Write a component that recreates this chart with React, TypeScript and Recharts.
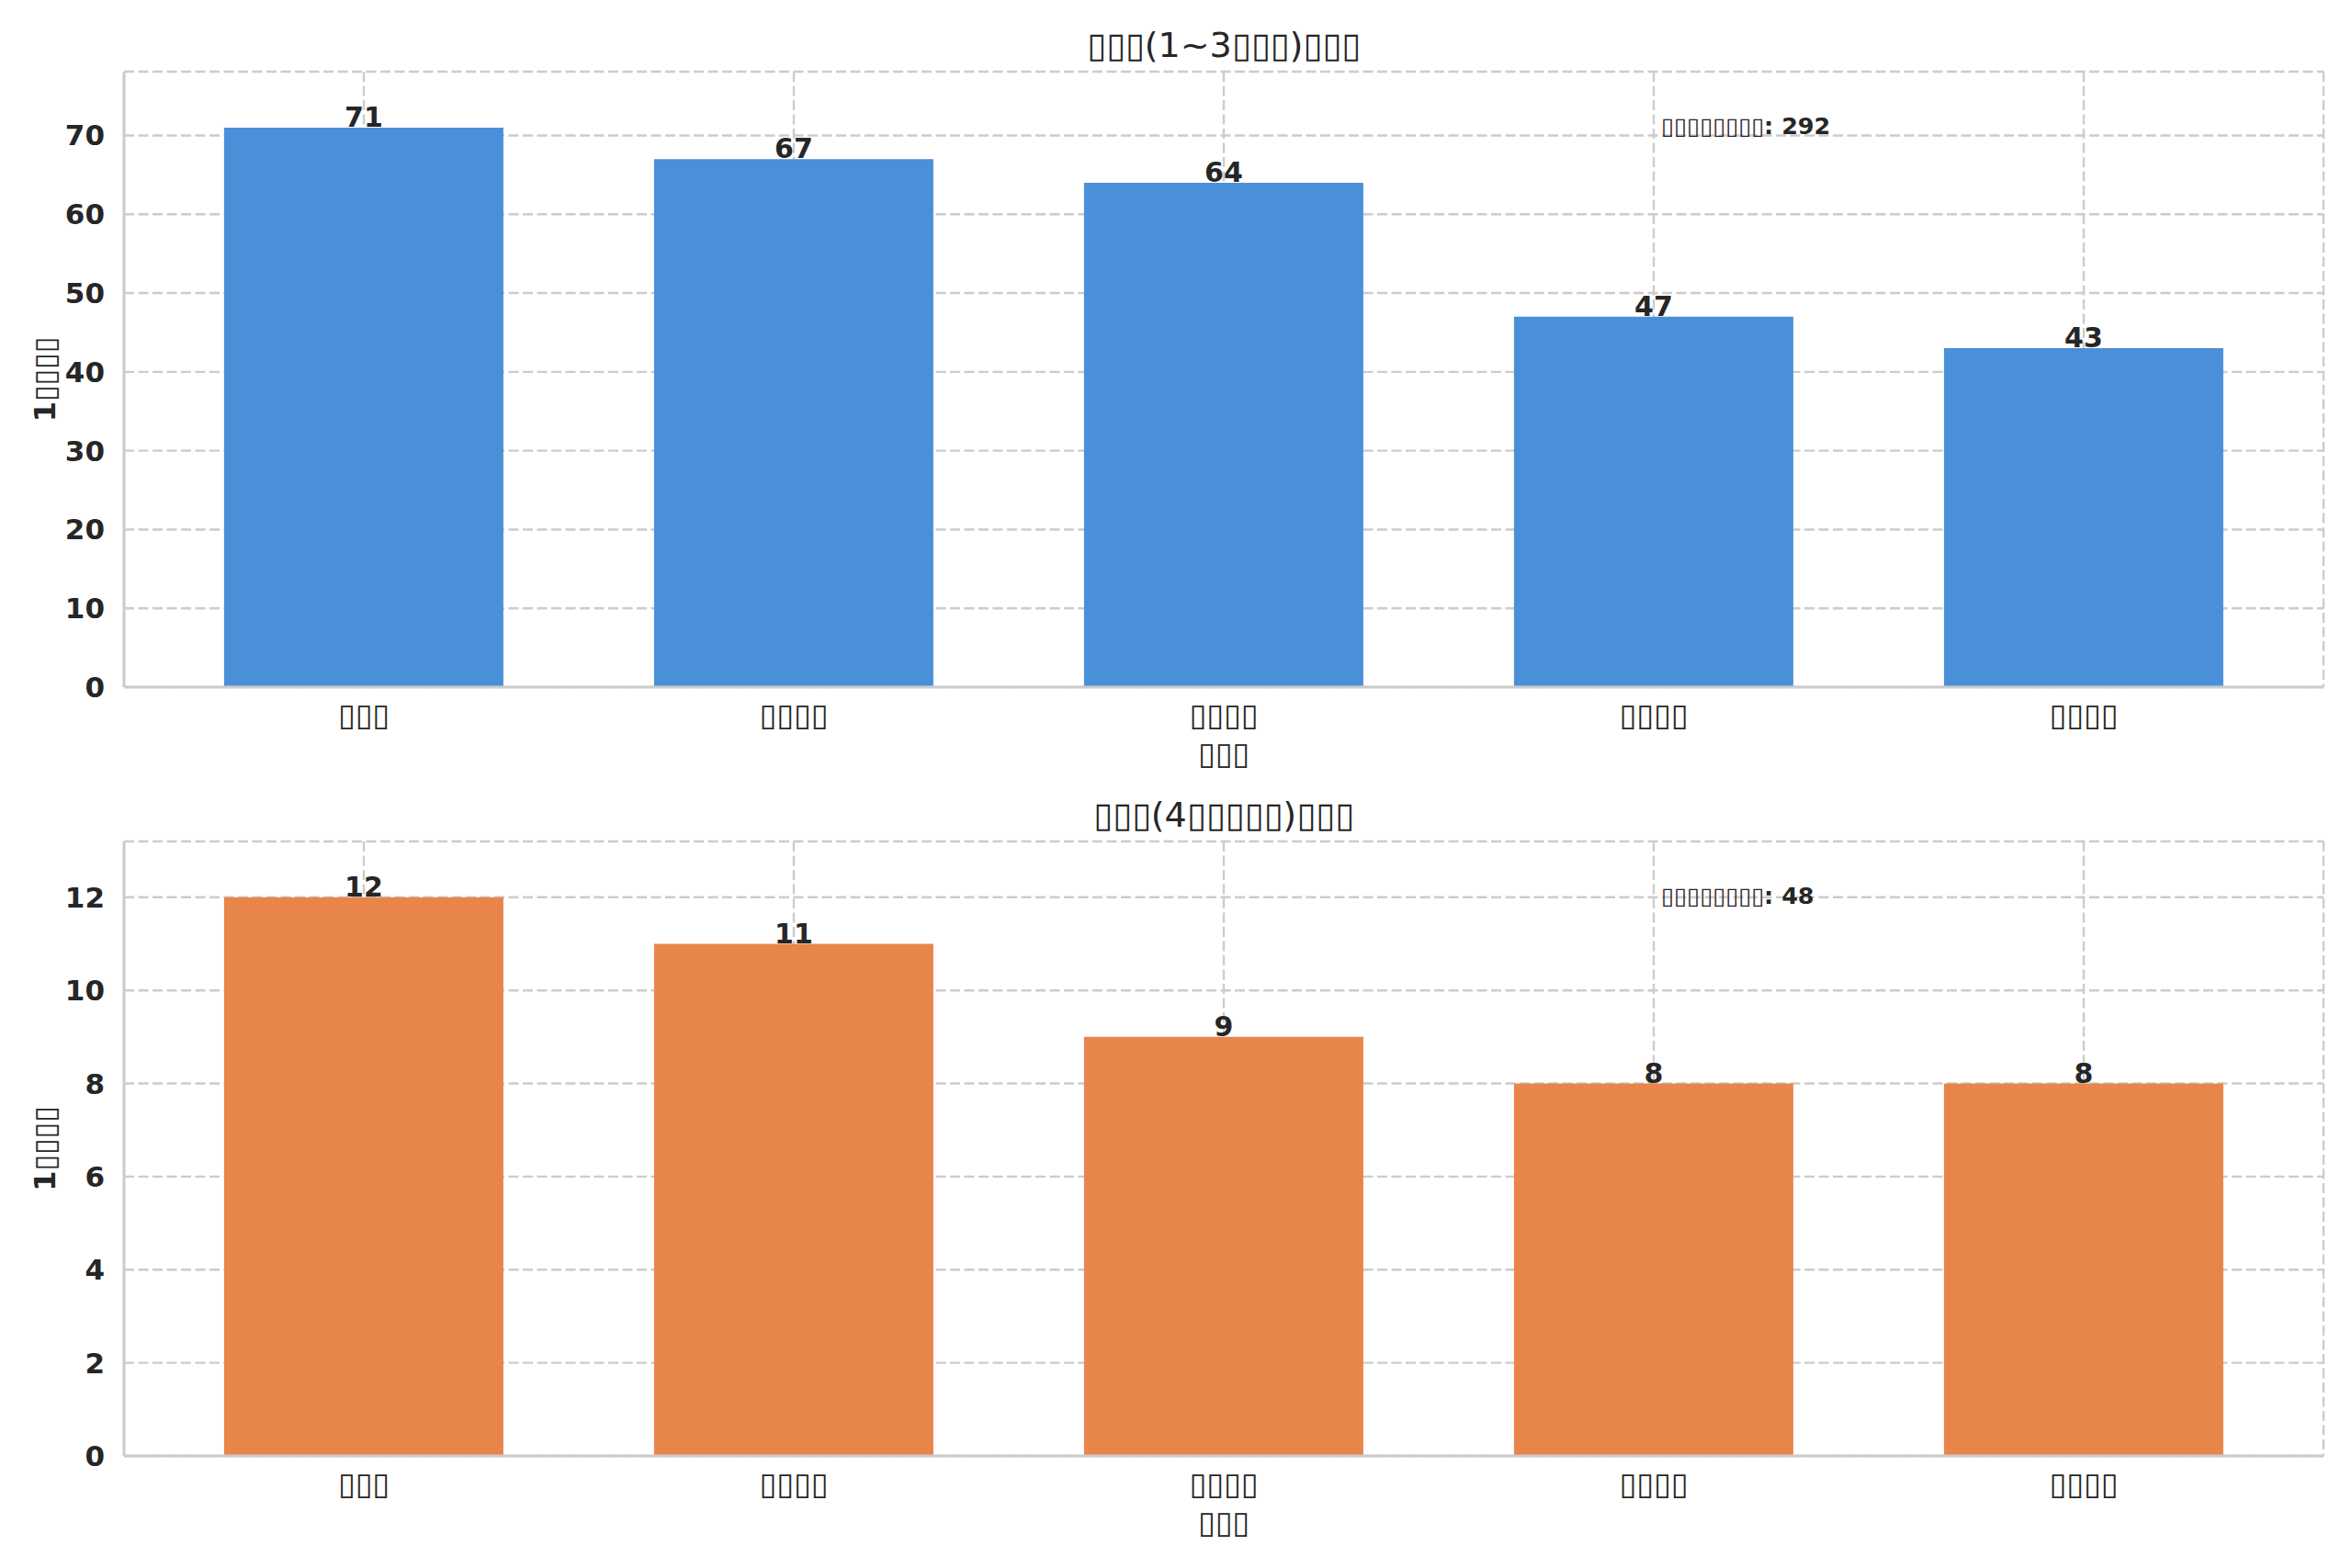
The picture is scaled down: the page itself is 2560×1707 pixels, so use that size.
import React from 'react';
import { BarChart, Bar, XAxis, YAxis, CartesianGrid, LabelList, Label } from 'recharts';

const FONT = "'DejaVu Sans', sans-serif";
const TEXT = '#262626';
const GRID = '#cccccc';

// Panel 1 (upper chart)
const firstCategories = ['▯▯▯', '▯▯▯▯', '▯▯▯▯', '▯▯▯▯', '▯▯▯▯'];
const firstValues = [71, 67, 64, 47, 43];
const firstTicks = [0, 10, 20, 30, 40, 50, 60, 70];
const firstTitle = '▯▯▯(1~3▯▯▯)▯▯▯';

// Panel 2 (lower chart)
const secondCategories = ['▯▯▯', '▯▯▯▯', '▯▯▯▯', '▯▯▯▯', '▯▯▯▯'];
const secondValues = [12, 11, 9, 8, 8];
const secondTicks = [0, 2, 4, 6, 8, 10, 12];
const secondTitle = '▯▯▯(4▯▯▯▯▯)▯▯▯';

const yAxisTitle = '1▯▯▯▯';
const xAxisTitle = '▯▯▯';
const totalLabel = '▯▯▯▯▯▯▯▯';

const W = 2560;
const PLOT_LEFT = 135;
const PLOT_RIGHT_MARGIN = 31;
const PLOT_W = W - PLOT_LEFT - PLOT_RIGHT_MARGIN;

type PanelProps = {
  top: number;
  height: number;
  plotTop: number;
  axisH: number;
  categories: string[];
  values: number[];
  ticks: number[];
  color: string;
  title: string;
};

function Panel({ top, height, plotTop, axisH, categories, values, ticks, color, title }: PanelProps) {
  const data = categories.map((c, i) => ({ name: c, value: values[i] }));
  const total = values.reduce((a, b) => a + b, 0);
  const yMax = Math.max(...values) * 1.1;

  const xLabel = (p: any) => {
    const vb = p.viewBox || {};
    return (
      <text
        x={vb.x + vb.width / 2}
        y={vb.y + 72}
        textAnchor="middle"
        dominantBaseline="central"
        fill={TEXT}
        fontSize={34}
        fontFamily={FONT}
      >
        {xAxisTitle}
      </text>
    );
  };
  const yLabel = (p: any) => {
    const vb = p.viewBox || {};
    const cx = vb.x + 49;
    const cy = vb.y + vb.height / 2;
    return (
      <text
        x={cx}
        y={cy}
        transform={`rotate(-90, ${cx}, ${cy})`}
        textAnchor="middle"
        dominantBaseline="central"
        fill={TEXT}
        fontSize={32}
        fontWeight="bold"
        fontFamily={FONT}
      >
        {yAxisTitle}
      </text>
    );
  };

  return (
    <div style={{ position: 'absolute', left: 0, top, width: W, height }}>
      <BarChart
        width={W}
        height={height}
        data={data}
        margin={{ top: plotTop, right: PLOT_RIGHT_MARGIN, left: 0, bottom: 0 }}
        barCategoryGap="17.5%"
      >
        <CartesianGrid stroke={GRID} strokeDasharray="11 4.5" strokeWidth={2.4} />
        <XAxis
          dataKey="name"
          height={axisH}
          padding={{ left: 27, right: 27 }}
          interval={0}
          tickLine={false}
          tickSize={0}
          tickMargin={18}
          axisLine={{ stroke: GRID, strokeWidth: 3 }}
          tick={{ fill: TEXT, fontSize: 34, fontFamily: FONT }}
        >
          <Label content={xLabel} />
        </XAxis>
        <XAxis
          xAxisId="top"
          orientation="top"
          dataKey="name"
          height={0}
          tick={false}
          tickLine={false}
          axisLine={{ stroke: GRID, strokeWidth: 3 }}
        />
        <YAxis
          width={PLOT_LEFT}
          domain={[0, yMax]}
          ticks={ticks}
          allowDataOverflow
          tickLine={false}
          tickSize={0}
          tickMargin={21}
          axisLine={{ stroke: GRID, strokeWidth: 3 }}
          tick={{ fill: TEXT, fontSize: 31, fontWeight: 'bold', fontFamily: FONT }}
        >
          <Label content={yLabel} />
        </YAxis>
        <YAxis
          yAxisId="right"
          orientation="right"
          width={0}
          tick={false}
          tickLine={false}
          axisLine={{ stroke: GRID, strokeWidth: 3 }}
        />
        <Bar dataKey="value" fill={color} isAnimationActive={false}>
          <LabelList
            dataKey="value"
            position="top"
            offset={1}
            fill={TEXT}
            fontSize={30}
            fontWeight="bold"
            fontFamily={FONT}
          />
        </Bar>
      </BarChart>
      <div
        style={{
          position: 'absolute',
          left: PLOT_LEFT,
          width: PLOT_W,
          top: plotTop - 29 - 22,
          height: 44,
          lineHeight: '44px',
          textAlign: 'center',
          fontFamily: FONT,
          fontSize: 38,
          color: TEXT,
          whiteSpace: 'nowrap',
        }}
      >
        {title}
      </div>
      <div
        style={{
          position: 'absolute',
          left: PLOT_LEFT + 0.7 * PLOT_W - 3,
          top: plotTop + 59 - 16,
          height: 32,
          lineHeight: '32px',
          fontFamily: FONT,
          fontSize: 25.5,
          fontWeight: 'bold',
          color: TEXT,
          whiteSpace: 'nowrap',
        }}
      >
        {`${totalLabel}: ${total}`}
      </div>
    </div>
  );
}

export default function App() {
  return (
    <div style={{ position: 'absolute', left: 0, top: 0, width: W, height: 1707, background: '#ffffff', overflow: 'hidden' }}>
      <Panel
        top={0}
        height={860}
        plotTop={78}
        axisH={112}
        categories={firstCategories}
        values={firstValues}
        ticks={firstTicks}
        color="#4A90D9"
        title={firstTitle}
      />
      <Panel
        top={860}
        height={847}
        plotTop={56}
        axisH={122}
        categories={secondCategories}
        values={secondValues}
        ticks={secondTicks}
        color="#E8854B"
        title={secondTitle}
      />
    </div>
  );
}
